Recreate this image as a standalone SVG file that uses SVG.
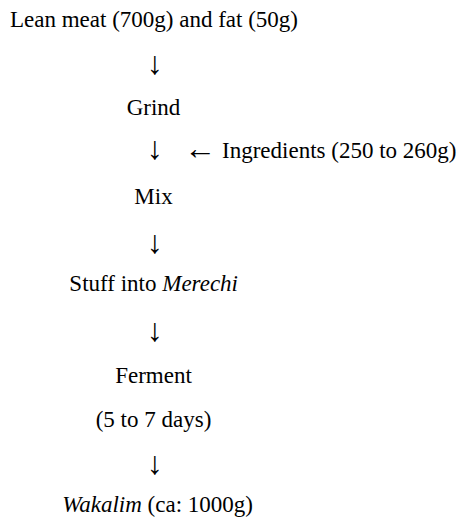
<svg xmlns="http://www.w3.org/2000/svg" width="460" height="520" viewBox="0 0 460 520" font-family="'Liberation Serif', 'Times New Roman', serif" font-size="23">
<style>
.c{text-anchor:middle}
.e{text-anchor:end}
.i{font-style:italic}
.a{font-family:'Liberation Serif',serif;font-size:32px;text-anchor:middle}
</style>
<rect width="460" height="520" fill="#fff"/>
<g id="connectors">
<text class="a" x="155" y="74">↓</text>
<text class="a" x="155" y="159">↓</text>
<text class="a" x="200" y="159">←</text>
<text class="a" x="155" y="253">↓</text>
<text class="a" x="155" y="341">↓</text>
<text class="a" x="155" y="474">↓</text>
</g>
<g id="n-lean"><text x="10" y="27">Lean meat (700g) and fat (50g)</text></g>
<g id="n-grind"><text class="c" x="153.5" y="115">Grind</text></g>
<g id="n-ingredients"><text x="222" y="158">Ingredients (250 to 260g)</text></g>
<g id="n-mix"><text class="c" x="153.5" y="204">Mix</text></g>
<g id="n-stuff"><text class="e" x="238" y="291">Stuff into <tspan class="i">Merechi</tspan></text></g>
<g id="n-ferment"><text class="c" x="153.5" y="383">Ferment</text></g>
<g id="n-days"><text class="c" x="153.5" y="427">(5 to 7 days)</text></g>
<g id="n-wakalim"><text class="e" x="253" y="512"><tspan class="i">Wakalim</tspan> (ca: 1000g)</text></g>
</svg>
